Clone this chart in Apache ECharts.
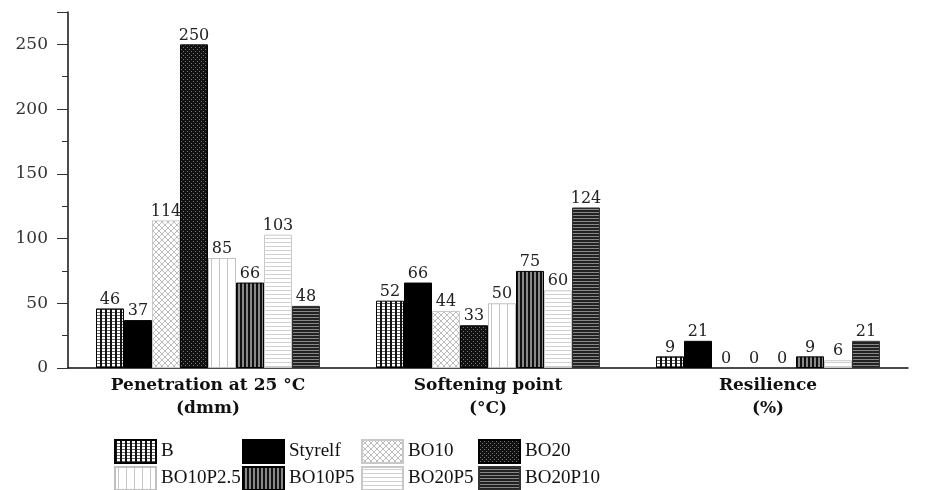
<!DOCTYPE html>
<html><head><meta charset="utf-8">
<script src="https://cdn.jsdelivr.net/npm/echarts@6/dist/echarts.min.js"></script>
<style>html,body{margin:0;padding:0;background:#fff}#c{width:944px;height:490px}</style>
</head><body><div id="c"></div>
<script>
const categories = ['Penetration at 25 °C\n(dmm)', 'Softening point\n(°C)', 'Resilience\n(%)'];
const seriesNames = ['B', 'Styrelf', 'BO10', 'BO20', 'BO10P2.5', 'BO10P5', 'BO20P5', 'BO20P10'];
const B        = [46, 52, 9];
const Styrelf  = [37, 66, 21];
const BO10     = [114, 44, 0];
const BO20     = [250, 33, 0];
const BO10P2_5 = [85, 50, 0];
const BO10P5   = [66, 75, 9];
const BO20P5   = [103, 60, 6];
const BO20P10  = [48, 124, 21];
const seriesValues = [B, Styrelf, BO10, BO20, BO10P2_5, BO10P5, BO20P5, BO20P10];
const yTicks = [0, 50, 100, 150, 200, 250];

function pat(w, h, draw) {
  const c = document.createElement('canvas');
  c.width = w; c.height = h;
  const g = c.getContext('2d');
  draw(g, w, h);
  return { image: c, repeat: 'repeat' };
}
const fills = [
  pat(5, 3, (g) => { g.fillStyle = '#fff'; g.fillRect(0,0,5,3); g.fillStyle = '#666'; g.fillRect(0,0,5,1); g.fillStyle = '#111'; g.fillRect(0,0,2,3); }),
  '#000',
  pat(6, 6, (g) => { g.fillStyle = '#fff'; g.fillRect(0,0,6,6); g.strokeStyle = '#bbb'; g.lineWidth = 1;
      g.beginPath(); g.moveTo(0,0); g.lineTo(6,6); g.moveTo(6,0); g.lineTo(0,6); g.stroke(); }),
  pat(4, 4, (g) => { g.fillStyle = '#111'; g.fillRect(0,0,4,4); g.fillStyle = '#777'; g.fillRect(1,1,1,1); g.fillRect(3,3,1,1); }),
  pat(8, 4, (g) => { g.fillStyle = '#fff'; g.fillRect(0,0,8,4); g.fillStyle = '#c4c4c4'; g.fillRect(3,0,1,4); }),
  pat(4, 4, (g) => { g.fillStyle = '#888'; g.fillRect(0,0,4,4); g.fillStyle = '#111'; g.fillRect(0,0,2,4); }),
  pat(4, 4, (g) => { g.fillStyle = '#fff'; g.fillRect(0,0,4,4); g.fillStyle = '#d0d0d0'; g.fillRect(0,2,4,1); }),
  pat(4, 3, (g) => { g.fillStyle = '#888'; g.fillRect(0,0,4,3); g.fillStyle = '#222'; g.fillRect(0,0,4,2); })
];
const borders = ['#000', '#000', '#c8c8c8', '#000', '#c0c0c0', '#000', '#c8c8c8', '#333'];

const series = seriesNames.map((n, i) => ({
  name: n, type: 'bar',
  data: seriesValues[i].map(v => v === 0 ? { value: v, itemStyle: { borderWidth: 0 } } : v),
  barWidth: 28, barGap: '0%',
  itemStyle: { color: fills[i], borderColor: borders[i], borderWidth: 1 },
  label: { show: true, position: 'top', distance: 1, fontFamily: 'DejaVu Serif', fontSize: 16, color: '#222' }
}));

const legendLefts = [114, 242, 361, 478];
const legends = legendLefts.map((l, k) => ({
  data: [seriesNames[k], seriesNames[k + 4]], left: l, top: 439, height: 80, orient: 'vertical',
  itemWidth: 41, itemHeight: 23, itemGap: 2, icon: 'rect', padding: 0,
  textStyle: { fontFamily: 'Liberation Serif', fontSize: 19, lineHeight: 22, color: '#111' }
}));

const chart = echarts.init(document.getElementById('c'), null, { renderer: 'canvas' });
chart.setOption({
  animation: false,
  backgroundColor: '#fff',
  grid: { left: 68, right: 36, top: 12, bottom: 122 },
  legend: legends,
  xAxis: {
    type: 'category', data: categories,
    axisLine: { lineStyle: { color: '#111', width: 1.5 } },
    axisTick: { inside: true, length: 4, lineStyle: { color: '#333' } },
    axisLabel: { fontFamily: 'DejaVu Serif', fontWeight: 'bold', fontSize: 17, color: '#111', lineHeight: 23, margin: 6 }
  },
  yAxis: [{
    type: 'value', min: 0, max: 275, interval: 25,
    splitLine: { show: false },
    axisLine: { show: true, lineStyle: { color: '#111', width: 1.5 } },
    axisTick: { show: true, length: 6, lineStyle: { color: '#333' } },
    axisLabel: { show: false }
  }, {
    type: 'value', position: 'left', min: 0, max: 275, interval: 50,
    splitLine: { show: false },
    axisLine: { show: false },
    axisTick: { show: true, length: 11, lineStyle: { color: '#333' } },
    axisLabel: { margin: 20, fontFamily: 'DejaVu Serif', fontSize: 17, color: '#333',
      formatter: (v) => yTicks.indexOf(v) >= 0 ? String(v) : '' }
  }],
  series: series
});
</script></body></html>
